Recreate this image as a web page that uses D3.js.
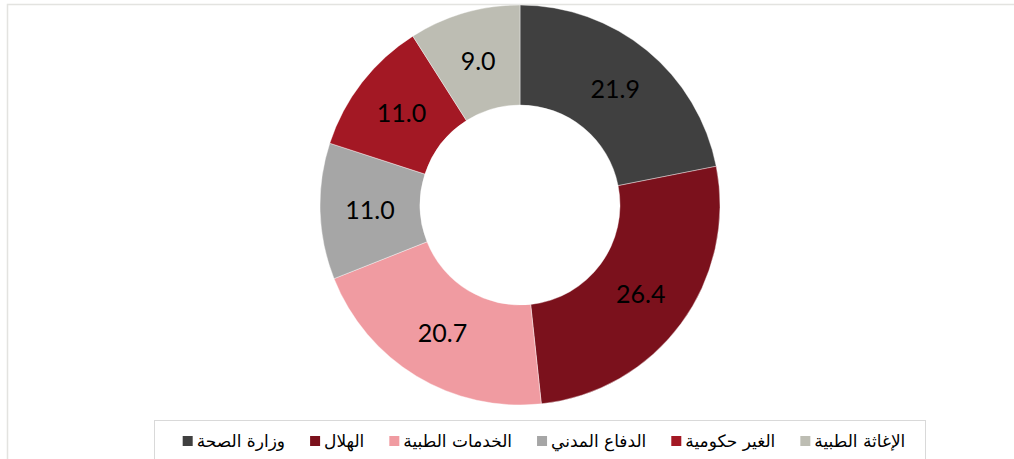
<!DOCTYPE html>
<html>
<head>
<meta charset="UTF-8">
<title>donut</title>
<script src="https://d3js.org/d3.v7.min.js"></script>
<style>
  body { margin: 0; background: #fff; }
  svg { display: block; }
</style>
</head>
<body>
<div id="chart"></div>
<script>
// data
var categories = ["وزارة الصحة", "الهلال", "الخدمات الطبية", "الدفاع المدني", "الغير حكومية", "الإغاثة الطبية"];
var values = [21.9, 26.4, 20.7, 11.0, 11.0, 9.0];
var colors = ["#404040", "#7b111c", "#f09ba1", "#a6a6a6", "#a31824", "#bdbdb3"];

var width = 1014, height = 459;
var cx = 520, cy = 205, outerR = 200, innerR = 100;

var svg = d3.select("#chart").append("svg")
    .attr("width", width)
    .attr("height", height);

// outer frame
svg.append("rect")
    .attr("x", 7.5).attr("y", 4.5)
    .attr("width", width + 20).attr("height", height + 20)
    .attr("fill", "none")
    .attr("stroke", "#e3e3e0")
    .attr("stroke-width", 1.5);

var pie = d3.pie().sort(null).value(function(d) { return d; });
var arc = d3.arc().innerRadius(innerR).outerRadius(outerR);
var labelArc = d3.arc().innerRadius(150).outerRadius(150);

var g = svg.append("g").attr("transform", "translate(" + cx + "," + cy + ")");

var arcs = pie(values);

g.selectAll("path")
    .data(arcs)
    .enter()
    .append("path")
    .attr("d", arc)
    .attr("fill", function(d, i) { return colors[i]; })
    .attr("stroke", "#fff")
    .attr("stroke-width", 0.4);

g.selectAll("text")
    .data(arcs)
    .enter()
    .append("text")
    .attr("transform", function(d) { return "translate(" + labelArc.centroid(d) + ")"; })
    .attr("text-anchor", "middle")
    .attr("dy", "0.36em")
    .attr("font-family", "Lato, 'Open Sans', sans-serif")
    .attr("font-size", 25)
    .attr("fill", "#000")
    .text(function(d) { return d.value.toFixed(1); });

// legend
var legX = 154.5, legY = 420.5, legW = 771, legH = 50;
svg.append("rect")
    .attr("x", legX).attr("y", legY)
    .attr("width", legW).attr("height", legH)
    .attr("fill", "#fff")
    .attr("stroke", "#d9d9d9")
    .attr("stroke-width", 1);

var leg = svg.append("g");
var items = leg.selectAll("g")
    .data(categories)
    .enter()
    .append("g");

items.append("rect")
    .attr("width", 10).attr("height", 10)
    .attr("y", -5)
    .attr("fill", function(d, i) { return colors[i]; });

items.append("text")
    .attr("x", 14)
    .attr("dy", "0.35em")
    .attr("font-family", "'DejaVu Sans', 'Noto Sans', sans-serif")
    .attr("font-size", 17)
    .attr("fill", "#000")
    .text(function(d) { return d; });

// flow layout, centered in legend box
var gap = 25;
var widths = [];
items.each(function() {
    widths.push(14 + d3.select(this).select("text").node().getComputedTextLength());
});
var total = d3.sum(widths) + gap * (widths.length - 1);
var x = legX + (legW - total) / 2 + 4;
items.attr("transform", function(d, i) {
    var t = "translate(" + x + "," + 441 + ")";
    x += widths[i] + gap;
    return t;
});
</script>
</body>
</html>
